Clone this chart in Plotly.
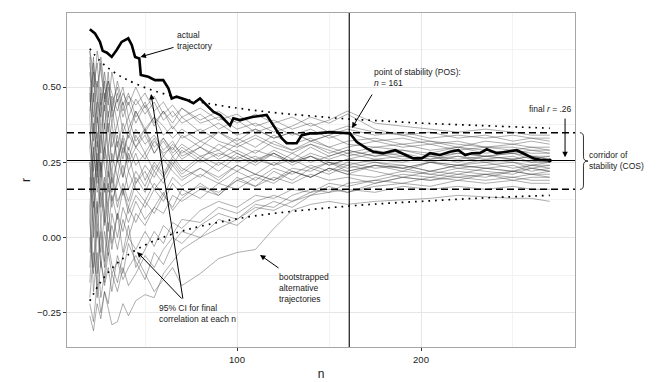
import plotly.graph_objects as go

# ---------------- data ----------------
# actual (observed) trajectory of r as n grows
actual_n = [20, 22.8, 25.5, 27, 29.3, 31.9, 34.6, 37.3, 40.9, 42.8, 44.6, 46.9, 47.7, 51.8, 55.4,
            59.9, 62.7, 64.5, 67.2, 72.7, 76.3, 79.9, 83.5, 87.1, 90.8, 96.2, 98, 101.6, 108.9,
            116.1, 117.9, 121.6, 124.3, 127, 132.4, 135.2, 139.7, 143.3, 150.5, 156, 160.5,
            161.4, 165, 170.5, 174, 179.5, 186, 191.3, 195.8, 200.4, 204.9, 210.3, 215.8, 220.3,
            224, 227.6, 232, 235.7, 241.1, 246.6, 252, 257.4, 261, 264.7, 270]
actual_r = [0.692, 0.678, 0.65, 0.62, 0.614, 0.60, 0.623, 0.65, 0.662, 0.64, 0.60, 0.595, 0.54,
            0.534, 0.523, 0.523, 0.496, 0.462, 0.468, 0.457, 0.446, 0.462, 0.44, 0.418, 0.407,
            0.372, 0.396, 0.39, 0.401, 0.407, 0.39, 0.357, 0.33, 0.313, 0.313, 0.34, 0.346, 0.346,
            0.350, 0.348, 0.348, 0.346, 0.318, 0.296, 0.285, 0.28, 0.29, 0.274, 0.263, 0.263,
            0.28, 0.274, 0.285, 0.29, 0.274, 0.28, 0.28, 0.293, 0.28, 0.285, 0.29, 0.274, 0.263,
            0.258, 0.256]

# bootstrapped alternative trajectories (values at these n)
boot_n = [20, 22, 24, 26, 28, 30, 32, 35, 38, 41, 45, 50, 55, 60, 65, 70, 80, 90, 100, 110,
          120, 130, 140, 150, 160, 175, 190, 205, 220, 235, 250, 260, 270]
boot_r = [
    [0.05, -0.10, 0.02, -0.08, -0.15, -0.05, -0.12, -0.08, -0.14, -0.10, -0.06, -0.12, -0.18, -0.14, -0.10, -0.16, -0.12, -0.07, -0.05, -0.04, 0.03, 0.09, 0.11, 0.12, 0.11, 0.12, 0.125, 0.13, 0.14, 0.135, 0.13, 0.13, 0.12],
    [-0.26, -0.31, -0.22, -0.27, -0.18, -0.24, -0.29, -0.28, -0.22, -0.26, -0.21, -0.19, -0.20, -0.12, -0.08, -0.04, 0.00, 0.03, 0.06, 0.10, 0.09, 0.12, 0.14, 0.15, 0.16, 0.15, 0.17, 0.16, 0.17, 0.16, 0.17, 0.16, 0.16],
    [0.10, -0.18, -0.05, -0.20, -0.12, -0.02, -0.09, -0.15, -0.06, 0.00, -0.04, 0.02, -0.03, 0.04, 0.01, 0.06, 0.05, 0.10, 0.08, 0.12, 0.14, 0.12, 0.15, 0.16, 0.15, 0.17, 0.18, 0.17, 0.19, 0.18, 0.19, 0.18, 0.18],
    [0.40, 0.15, 0.28, 0.05, 0.18, 0.10, 0.22, 0.12, 0.16, 0.08, 0.14, 0.10, 0.16, 0.12, 0.18, 0.14, 0.17, 0.15, 0.19, 0.17, 0.20, 0.18, 0.21, 0.19, 0.20, 0.18, 0.20, 0.19, 0.20, 0.19, 0.20, 0.19, 0.19],
    [-0.05, 0.20, -0.12, 0.05, -0.08, 0.10, -0.02, 0.08, -0.05, 0.04, -0.10, -0.04, 0.02, -0.02, 0.05, 0.03, 0.09, 0.12, 0.10, 0.14, 0.13, 0.16, 0.15, 0.18, 0.17, 0.19, 0.18, 0.20, 0.19, 0.21, 0.20, 0.21, 0.20],
    [0.60, 0.35, 0.45, 0.22, 0.30, 0.38, 0.25, 0.32, 0.20, 0.28, 0.18, 0.24, 0.20, 0.26, 0.22, 0.19, 0.23, 0.20, 0.24, 0.21, 0.19, 0.22, 0.20, 0.23, 0.21, 0.20, 0.22, 0.21, 0.20, 0.21, 0.19, 0.20, 0.20],
    [0.25, 0.00, 0.12, -0.10, 0.02, -0.06, 0.08, 0.00, 0.10, 0.05, 0.12, 0.06, 0.10, 0.15, 0.09, 0.13, 0.18, 0.14, 0.20, 0.17, 0.22, 0.19, 0.23, 0.21, 0.24, 0.22, 0.20, 0.22, 0.21, 0.23, 0.22, 0.21, 0.21],
    [0.45, 0.60, 0.38, 0.50, 0.42, 0.55, 0.40, 0.46, 0.35, 0.40, 0.32, 0.36, 0.30, 0.33, 0.28, 0.31, 0.27, 0.29, 0.25, 0.27, 0.24, 0.26, 0.23, 0.25, 0.22, 0.24, 0.23, 0.21, 0.23, 0.22, 0.21, 0.23, 0.22],
    [-0.15, 0.05, -0.20, -0.08, -0.16, -0.10, -0.18, -0.06, -0.12, -0.02, -0.08, -0.14, -0.05, -0.09, -0.02, 0.02, 0.00, 0.06, 0.04, 0.09, 0.12, 0.10, 0.14, 0.17, 0.15, 0.18, 0.20, 0.19, 0.21, 0.20, 0.22, 0.21, 0.22],
    [0.30, 0.48, 0.20, 0.36, 0.26, 0.42, 0.30, 0.38, 0.28, 0.34, 0.30, 0.36, 0.28, 0.32, 0.27, 0.30, 0.26, 0.31, 0.28, 0.25, 0.28, 0.24, 0.27, 0.25, 0.23, 0.25, 0.24, 0.22, 0.24, 0.23, 0.24, 0.22, 0.23],
    [0.10, 0.30, 0.15, 0.25, 0.05, 0.18, 0.10, 0.20, 0.14, 0.22, 0.16, 0.12, 0.18, 0.14, 0.20, 0.17, 0.21, 0.18, 0.22, 0.19, 0.23, 0.21, 0.24, 0.22, 0.25, 0.23, 0.24, 0.22, 0.24, 0.23, 0.22, 0.24, 0.23],
    [0.55, 0.40, 0.52, 0.36, 0.44, 0.30, 0.38, 0.26, 0.34, 0.29, 0.36, 0.31, 0.34, 0.29, 0.32, 0.27, 0.30, 0.26, 0.29, 0.26, 0.28, 0.25, 0.27, 0.24, 0.26, 0.25, 0.23, 0.25, 0.24, 0.25, 0.23, 0.24, 0.24],
    [0.00, -0.12, 0.08, 0.15, 0.04, 0.12, 0.20, 0.10, 0.18, 0.12, 0.20, 0.15, 0.22, 0.18, 0.24, 0.20, 0.23, 0.19, 0.24, 0.21, 0.25, 0.22, 0.20, 0.23, 0.21, 0.24, 0.22, 0.25, 0.23, 0.24, 0.25, 0.23, 0.24],
    [0.35, 0.22, 0.40, 0.28, 0.48, 0.35, 0.44, 0.30, 0.38, 0.33, 0.42, 0.36, 0.40, 0.34, 0.37, 0.33, 0.36, 0.32, 0.30, 0.33, 0.30, 0.28, 0.31, 0.29, 0.27, 0.29, 0.27, 0.26, 0.27, 0.25, 0.26, 0.25, 0.25],
    [-0.20, -0.05, -0.15, 0.02, -0.10, 0.05, -0.04, 0.08, 0.02, 0.10, 0.05, 0.12, 0.08, 0.14, 0.10, 0.16, 0.13, 0.18, 0.16, 0.20, 0.18, 0.22, 0.20, 0.23, 0.22, 0.24, 0.23, 0.25, 0.24, 0.26, 0.25, 0.24, 0.25],
    [0.50, 0.28, 0.35, 0.18, 0.30, 0.24, 0.15, 0.26, 0.20, 0.30, 0.24, 0.28, 0.22, 0.27, 0.24, 0.29, 0.25, 0.28, 0.26, 0.29, 0.27, 0.25, 0.28, 0.26, 0.28, 0.26, 0.27, 0.25, 0.27, 0.26, 0.27, 0.25, 0.26],
    [0.20, 0.05, 0.25, 0.10, 0.20, 0.02, 0.14, 0.06, 0.16, 0.10, 0.18, 0.22, 0.16, 0.20, 0.25, 0.21, 0.26, 0.22, 0.27, 0.24, 0.28, 0.25, 0.27, 0.24, 0.26, 0.28, 0.26, 0.27, 0.25, 0.27, 0.26, 0.27, 0.26],
    [0.62, 0.50, 0.58, 0.44, 0.52, 0.40, 0.47, 0.38, 0.45, 0.36, 0.42, 0.35, 0.40, 0.37, 0.33, 0.36, 0.32, 0.35, 0.31, 0.34, 0.31, 0.29, 0.32, 0.30, 0.28, 0.30, 0.29, 0.27, 0.28, 0.27, 0.28, 0.27, 0.27],
    [0.15, 0.38, 0.22, 0.45, 0.30, 0.20, 0.35, 0.25, 0.32, 0.22, 0.28, 0.19, 0.25, 0.21, 0.27, 0.23, 0.20, 0.25, 0.22, 0.26, 0.24, 0.28, 0.25, 0.27, 0.29, 0.27, 0.28, 0.26, 0.28, 0.27, 0.28, 0.26, 0.27],
    [0.42, 0.55, 0.30, 0.48, 0.36, 0.50, 0.42, 0.52, 0.44, 0.48, 0.40, 0.45, 0.38, 0.42, 0.36, 0.40, 0.35, 0.38, 0.34, 0.36, 0.33, 0.35, 0.32, 0.34, 0.31, 0.30, 0.31, 0.29, 0.30, 0.28, 0.29, 0.28, 0.28],
    [-0.10, 0.12, 0.00, 0.18, 0.08, 0.22, 0.12, 0.18, 0.24, 0.16, 0.22, 0.17, 0.24, 0.20, 0.26, 0.22, 0.27, 0.24, 0.28, 0.25, 0.29, 0.26, 0.30, 0.27, 0.29, 0.27, 0.29, 0.28, 0.30, 0.29, 0.28, 0.29, 0.28],
    [0.58, 0.45, 0.62, 0.55, 0.46, 0.52, 0.44, 0.50, 0.42, 0.47, 0.44, 0.48, 0.42, 0.45, 0.40, 0.43, 0.38, 0.40, 0.36, 0.38, 0.35, 0.37, 0.40, 0.38, 0.41, 0.36, 0.34, 0.32, 0.31, 0.30, 0.30, 0.29, 0.29],
    [0.25, 0.10, 0.32, 0.20, 0.38, 0.28, 0.22, 0.34, 0.26, 0.36, 0.30, 0.26, 0.32, 0.28, 0.30, 0.26, 0.30, 0.27, 0.31, 0.28, 0.32, 0.29, 0.31, 0.28, 0.30, 0.32, 0.30, 0.31, 0.29, 0.30, 0.29, 0.30, 0.29],
    [0.48, 0.32, 0.44, 0.60, 0.50, 0.44, 0.55, 0.45, 0.50, 0.40, 0.46, 0.41, 0.45, 0.39, 0.42, 0.38, 0.41, 0.36, 0.39, 0.35, 0.37, 0.34, 0.36, 0.33, 0.35, 0.32, 0.33, 0.31, 0.32, 0.30, 0.31, 0.30, 0.30],
    [0.05, 0.28, 0.18, 0.34, 0.24, 0.15, 0.28, 0.20, 0.30, 0.26, 0.34, 0.28, 0.33, 0.27, 0.31, 0.28, 0.32, 0.29, 0.33, 0.30, 0.34, 0.31, 0.33, 0.30, 0.32, 0.33, 0.31, 0.32, 0.30, 0.32, 0.31, 0.32, 0.31],
    [0.62, 0.55, 0.50, 0.58, 0.45, 0.52, 0.48, 0.42, 0.48, 0.44, 0.50, 0.43, 0.47, 0.41, 0.44, 0.40, 0.43, 0.39, 0.41, 0.37, 0.39, 0.36, 0.38, 0.35, 0.37, 0.35, 0.34, 0.35, 0.33, 0.34, 0.32, 0.33, 0.32],
    [0.35, 0.20, 0.08, 0.25, 0.15, 0.30, 0.18, 0.26, 0.33, 0.25, 0.30, 0.34, 0.28, 0.33, 0.29, 0.34, 0.30, 0.35, 0.32, 0.36, 0.33, 0.35, 0.32, 0.34, 0.36, 0.34, 0.35, 0.33, 0.34, 0.33, 0.34, 0.33, 0.33],
    [0.40, 0.58, 0.46, 0.40, 0.55, 0.47, 0.38, 0.48, 0.40, 0.45, 0.38, 0.44, 0.37, 0.42, 0.38, 0.43, 0.39, 0.42, 0.38, 0.41, 0.38, 0.40, 0.37, 0.39, 0.42, 0.38, 0.37, 0.36, 0.35, 0.36, 0.35, 0.34, 0.34],
    [-0.22, -0.28, -0.15, -0.25, -0.18, -0.22, -0.12, -0.18, -0.10, -0.16, -0.12, -0.06, -0.10, -0.04, 0.00, -0.02, 0.04, 0.08, 0.06, 0.11, 0.10, 0.14, 0.16, 0.15, 0.18, 0.19, 0.21, 0.20, 0.22, 0.21, 0.22, 0.23, 0.22],
    [0.30, 0.15, 0.05, -0.05, 0.08, -0.02, 0.04, -0.04, 0.06, 0.00, 0.08, 0.04, 0.10, 0.08, 0.14, 0.12, 0.16, 0.14, 0.19, 0.21, 0.19, 0.23, 0.22, 0.25, 0.24, 0.26, 0.25, 0.27, 0.26, 0.27, 0.26, 0.27, 0.26],
]

# 95% CI for the final correlation at each n
ci_n = [20, 25, 30, 35, 40, 50, 60, 70, 80, 100, 120, 140, 160, 180, 200, 220, 240, 270]
ci_upper = [0.627, 0.590, 0.563, 0.542, 0.525, 0.498, 0.478, 0.462, 0.450, 0.430, 0.415, 0.404,
            0.394, 0.387, 0.380, 0.375, 0.370, 0.363]
ci_lower = [-0.211, -0.156, -0.116, -0.085, -0.061, -0.025, 0.001, 0.021, 0.037, 0.062, 0.080,
            0.093, 0.104, 0.113, 0.120, 0.127, 0.133, 0.140]

final_r = 0.256
cos_upper = 0.348
cos_lower = 0.160
pos_n = 161

x_ticks = [100, 200]
y_ticks = [-0.25, 0.00, 0.25, 0.50]
y_tick_text = ["\u22120.25", "0.00", "0.25", "0.50"]

FONT = "Liberation Sans, Arial, Helvetica, sans-serif"

fig = go.Figure()

for tr in boot_r:
    fig.add_trace(go.Scatter(x=boot_n, y=tr, mode="lines",
                             line=dict(color="rgba(60,60,60,0.6)", width=0.7),
                             hoverinfo="skip", showlegend=False))

for band in (ci_upper, ci_lower):
    fig.add_trace(go.Scatter(x=ci_n, y=band, mode="lines", line_shape="spline",
                             line=dict(color="black", width=1.7, dash="1.7px,5px"),
                             hoverinfo="skip", showlegend=False))

fig.add_trace(go.Scatter(x=actual_n, y=actual_r, mode="lines",
                         line=dict(color="black", width=2.6),
                         hoverinfo="skip", showlegend=False))
fig.add_trace(go.Scatter(x=[actual_n[-1]], y=[actual_r[-1]], mode="markers",
                         marker=dict(color="black", size=4),
                         hoverinfo="skip", showlegend=False))

shapes = [
    dict(type="line", xref="paper", yref="y", x0=0, x1=1, y0=final_r, y1=final_r,
         line=dict(color="black", width=1.1)),
    dict(type="line", xref="paper", yref="y", x0=0, x1=1, y0=cos_upper, y1=cos_upper,
         line=dict(color="black", width=1.5, dash="7px,4px")),
    dict(type="line", xref="paper", yref="y", x0=0, x1=1, y0=cos_lower, y1=cos_lower,
         line=dict(color="black", width=1.5, dash="7px,4px")),
    dict(type="line", xref="x", yref="paper", x0=pos_n, x1=pos_n, y0=0, y1=1,
         line=dict(color="black", width=1.1)),
]
# curly brace for corridor of stability (x in paper units, y in data units)
x0b, xmb, x1b = 1.0098, 1.0167, 1.0256
ymid = (cos_upper + cos_lower) / 2
d = 0.014
brace = (f"M {x0b},{cos_upper} Q {xmb},{cos_upper} {xmb},{cos_upper - d} "
         f"L {xmb},{ymid + d} Q {xmb},{ymid} {x1b},{ymid} "
         f"Q {xmb},{ymid} {xmb},{ymid - d} L {xmb},{cos_lower + d} "
         f"Q {xmb},{cos_lower} {x0b},{cos_lower}")
shapes.append(dict(type="path", xref="paper", yref="y", path=brace,
                   line=dict(color="black", width=0.8)))

ann_font = dict(family=FONT, size=8.5, color="#1a1a1a")
arrows = [
    # (head_x, head_y, tail_x, tail_y)
    (47.5, 0.600, 66.3, 0.633),
    (162.5, 0.364, 173.9, 0.480),
    (278.3, 0.267, 278.3, 0.400),
    (53.3, 0.477, 70.7, -0.208),
    (45.7, -0.048, 70.7, -0.208),
    (112.5, -0.058, 123.4, -0.105),
]
annotations = []
for hx, hy, tx, ty in arrows:
    annotations.append(dict(x=hx, y=hy, ax=tx, ay=ty, xref="x", yref="y", axref="x", ayref="y",
                            text="", showarrow=True, arrowhead=2, arrowsize=1.1,
                            arrowwidth=1, arrowcolor="black"))

texts = [
    (66.3, 0.656, "actual<br>trajectory", "x"),
    (173.2, 0.530, "point of stability (POS):<br><i>n</i> = 161", "x"),
    (257.7, 0.427, "final <i>r</i> = .26", "x"),
    (56.6, -0.252, "95% CI for final<br>correlation at each n", "x"),
    (121.8, -0.168, "bootstrapped<br>alternative<br>trajectories", "x"),
]
for tx, ty, txt, xr in texts:
    annotations.append(dict(x=tx, y=ty, xref=xr, yref="y", text=txt, showarrow=False,
                            xanchor="left", yanchor="middle", align="left", font=ann_font))
annotations.append(dict(x=1.024, y=final_r, xref="paper", yref="y",
                        text="corridor of<br>stability (COS)", showarrow=False,
                        xanchor="left", yanchor="middle", align="left", font=ann_font))

fig.update_layout(
    width=660, height=382,
    margin=dict(l=67, r=85, t=13, b=35, autoexpand=False),
    paper_bgcolor="white", plot_bgcolor="white",
    font=dict(family=FONT, color="#1a1a1a"),
    shapes=shapes, annotations=annotations,
    showlegend=False,
)
fig.update_xaxes(
    automargin=False,
    range=[7.6, 283.7], tickvals=x_ticks, ticks="outside", ticklen=3, tickwidth=1,
    tickcolor="#333333", tickfont=dict(size=9.5, color="#1a1a1a"),
    showgrid=True, gridcolor="#e6e6e6", gridwidth=0.8,
    minor=dict(dtick=50, tick0=0, showgrid=True, gridcolor="#f3f3f3", gridwidth=0.6),
    showline=True, mirror=True, linecolor="#a6a6a6", linewidth=1.2, zeroline=False,
    title=dict(text="n", font=dict(size=12), standoff=6),
)
fig.update_yaxes(
    automargin=False,
    range=[-0.364, 0.746], tickvals=y_ticks, ticktext=y_tick_text, ticks="outside", ticklen=3,
    tickwidth=1, tickcolor="#333333", tickfont=dict(size=9.5, color="#1a1a1a"),
    showgrid=True, gridcolor="#e6e6e6", gridwidth=0.8,
    minor=dict(dtick=0.125, tick0=0, showgrid=True, gridcolor="#f3f3f3", gridwidth=0.6),
    showline=True, mirror=True, linecolor="#a6a6a6", linewidth=1.2, zeroline=False,
    title=dict(text="r", font=dict(size=12), standoff=3),
)

fig.write_html("out.html", config={"displayModeBar": False},
               post_script="document.body.style.margin='0px';")
